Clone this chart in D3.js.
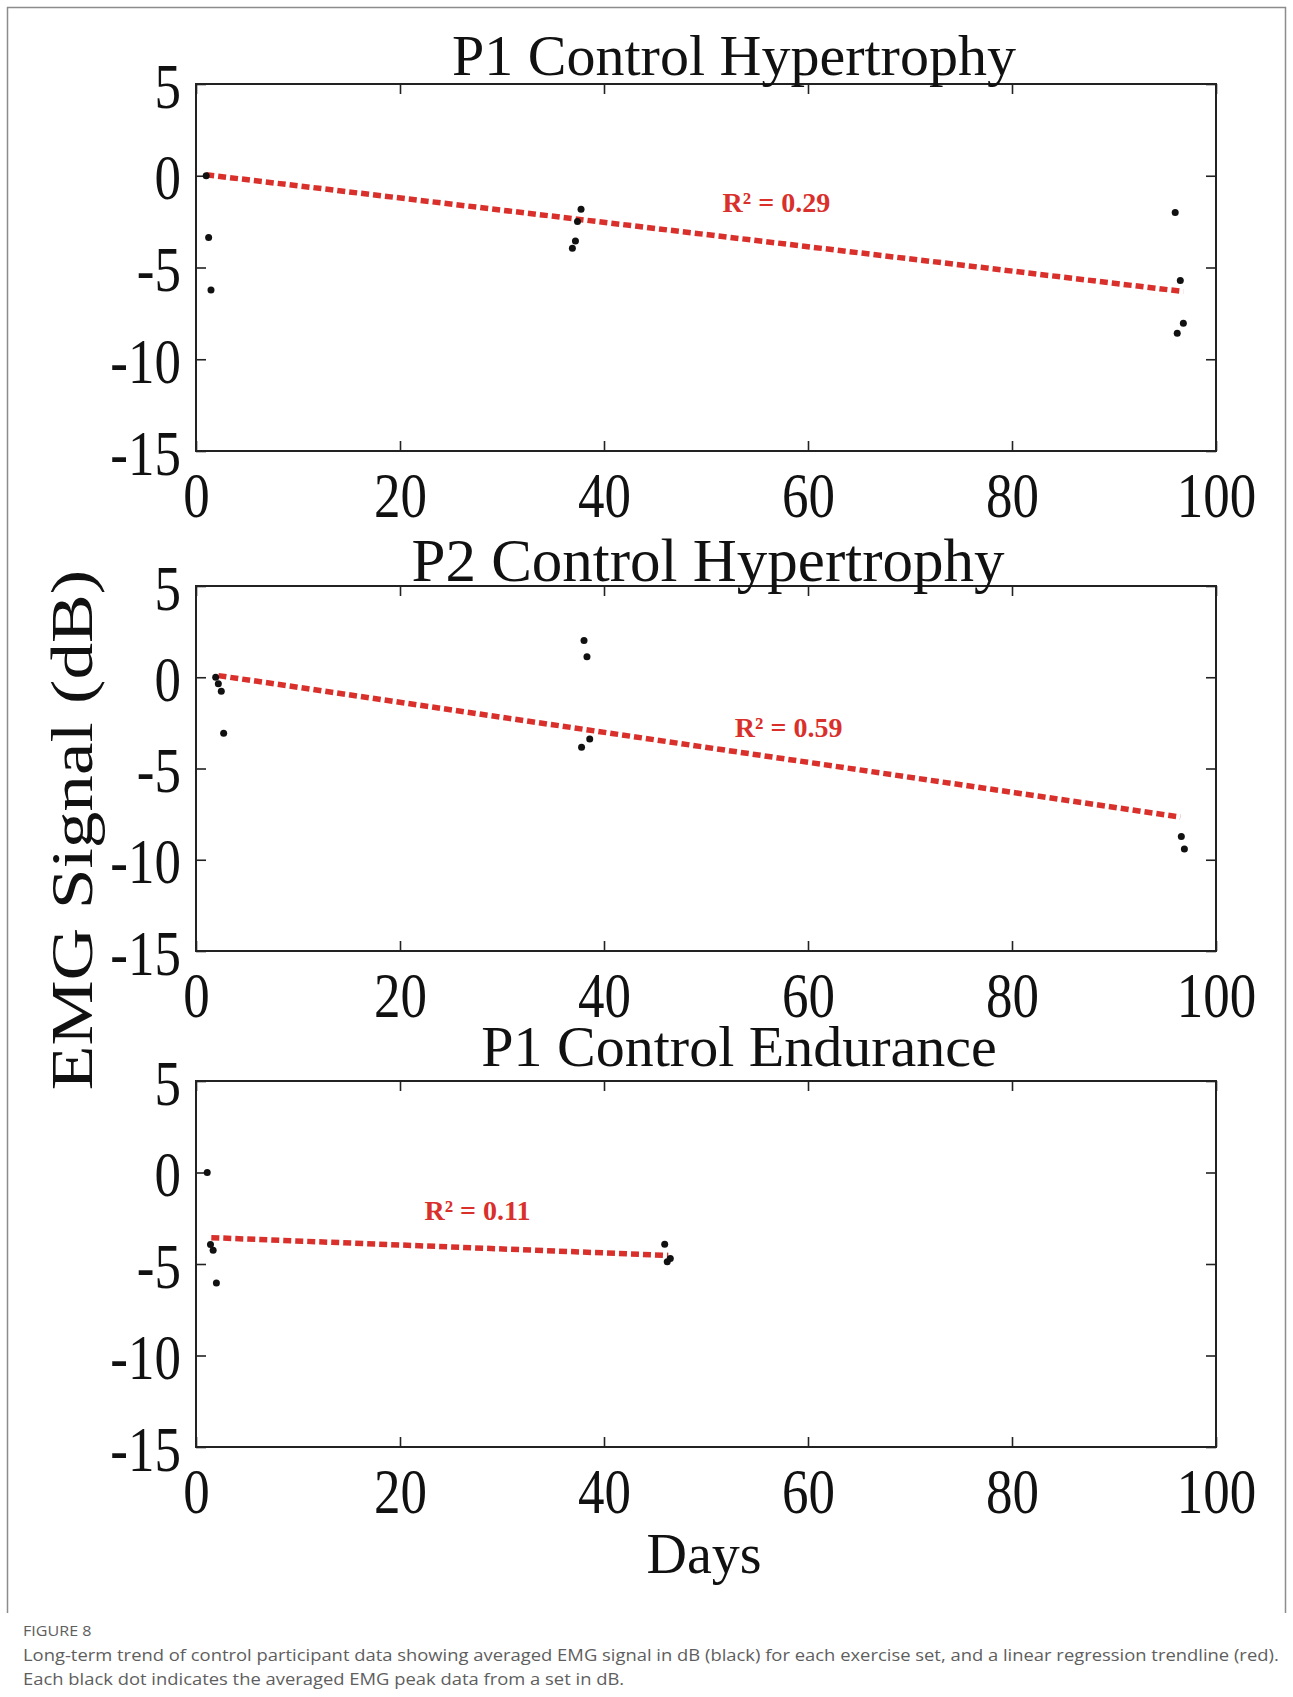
<!DOCTYPE html>
<html>
<head>
<meta charset="utf-8">
<script src="https://cdn.jsdelivr.net/npm/d3@7"></script>
<style>
  body { margin: 0; background: #fff; }
  .serif { font-family: "Liberation Serif", "Times New Roman", serif; }
  .caption { font-family: "Open Sans", "Noto Sans", sans-serif; fill: #5e5e5e; }
</style>
</head>
<body>
<div id="chart"></div>
<script>
// --------------------------------------
//  Data
// --------------------------------------

const panelTitles = ["P1 Control Hypertrophy", "P2 Control Hypertrophy", "P1 Control Endurance"];
const rSquared = ["0.29", "0.59", "0.11"];
const xTicks = [0, 20, 40, 60, 80, 100];
const yTicks = [5, 0, -5, -10, -15];

const p1HypDays = [1.0, 1.24, 1.47, 36.9, 37.2, 37.4, 37.75, 96.0, 96.2, 96.5, 96.8];
const p1HypEmg  = [0.0, -3.37, -6.22, -3.95, -3.55, -2.49, -1.82, -2.0, -8.58, -5.71, -8.04];

const p2HypDays = [1.93, 2.19, 2.48, 2.71, 37.8, 38.04, 38.33, 38.6, 96.6, 96.9];
const p2HypEmg  = [0.0, -0.36, -0.77, -3.07, -3.83, 2.01, 1.13, -3.39, -8.72, -9.41];

const p1EndDays = [1.1, 1.42, 1.68, 2.0, 45.95, 46.2, 46.5];
const p1EndEmg  = [0.0, -3.94, -4.25, -6.04, -3.92, -4.88, -4.7];

const trendStartDay = [1.0, 2.2, 1.5];
const trendEndDay   = [96.8, 96.5, 46.3];
const trendStartEmg = [0.05, 0.09, -3.56];
const trendEndEmg   = [-6.31, -7.66, -4.53];

const captionLines = [
  "Long-term trend of control participant data showing averaged EMG signal in dB (black) for each exercise set, and a linear regression trendline (red).",
  "Each black dot indicates the averaged EMG peak data from a set in dB."
];

// --------------------------------------
//  Layout
// --------------------------------------

const width = 1293;
const height = 1697;
const plotLeft = 196, plotRight = 1216;
const panelTop = [84, 586, 1081];
const panelBottom = [451, 951, 1447];
const titleX = [734, 708, 739];
const titleY = [75, 581, 1066];
const titleSize = [58, 61, 58];
const labelDay = [56.9, 58.1, 27.6];   // R² label centre, data coords
const labelEmg = [-1.95, -3.28, -2.61];
const tickStretch = 1.2;
const captionStretch = 1.15;

const panels = [
  {days: p1HypDays, emg: p1HypEmg},
  {days: p2HypDays, emg: p2HypEmg},
  {days: p1EndDays, emg: p1EndEmg}
];

const svg = d3.select("#chart")
  .append("svg")
    .attr("width", width)
    .attr("height", height)
    .attr("viewBox", `0, 0, ${width}, ${height}`);

// figure frame (open at the bottom)
svg.append("path")
  .attr("d", "M7.5,1613 V7.5 H1285.5 V1613")
  .attr("fill", "none")
  .attr("stroke", "#8c8c8c")
  .attr("stroke-width", 1.5);

const x = d3.scaleLinear().domain([0, 100]).range([plotLeft, plotRight]);

panels.forEach((p, i) => {
  const y = d3.scaleLinear().domain([-15, 5]).range([panelBottom[i], panelTop[i]]);
  const g = svg.append("g");

  // bottom axis with labels
  const xAxis = g.append("g")
    .attr("transform", `translate(0, ${panelBottom[i]})`)
    .call(d3.axisBottom(x).tickValues(xTicks).tickSize(-10).tickSizeOuter(0).tickFormat(d => String(d)));
  xAxis.selectAll("text")
    .attr("class", "serif")
    .attr("font-size", 53)
    .attr("fill", "#111")
    .attr("dy", null)
    .attr("y", 66 / tickStretch)
    .attr("transform", `scale(1, ${tickStretch})`);

  // top axis (ticks only)
  g.append("g")
    .attr("transform", `translate(0, ${panelTop[i]})`)
    .call(d3.axisTop(x).tickValues(xTicks).tickSize(-10).tickSizeOuter(0).tickFormat(""));

  // left axis with labels
  const yAxis = g.append("g")
    .attr("transform", `translate(${plotLeft}, 0)`)
    .call(d3.axisLeft(y).tickValues(yTicks).tickSize(-10).tickSizeOuter(0).tickFormat(d => String(d)));
  yAxis.selectAll("text")
    .attr("class", "serif")
    .attr("font-size", 53)
    .attr("fill", "#111")
    .attr("dy", null)
    .attr("x", -15)
    .attr("y", 23 / tickStretch)
    .attr("transform", `scale(1, ${tickStretch})`);

  // right axis (ticks only)
  g.append("g")
    .attr("transform", `translate(${plotRight}, 0)`)
    .call(d3.axisRight(y).tickValues(yTicks).tickSize(-10).tickSizeOuter(0).tickFormat(""));

  g.selectAll(".domain").remove();
  g.selectAll(".tick line").attr("stroke", "#222").attr("stroke-width", 1.6);

  // box
  g.append("rect")
    .attr("x", plotLeft)
    .attr("y", panelTop[i])
    .attr("width", plotRight - plotLeft)
    .attr("height", panelBottom[i] - panelTop[i])
    .attr("fill", "none")
    .attr("stroke", "#222")
    .attr("stroke-width", 2);

  // trend line
  g.append("line")
    .attr("x1", x(trendStartDay[i]))
    .attr("y1", y(trendStartEmg[i]))
    .attr("x2", x(trendEndDay[i]))
    .attr("y2", y(trendEndEmg[i]))
    .attr("stroke", "#d9302c")
    .attr("stroke-width", 5.5)
    .attr("stroke-dasharray", "8,4");

  // points
  g.selectAll("circle.pt")
    .data(d3.range(p.days.length))
    .join("circle")
      .attr("class", "pt")
      .attr("cx", k => x(p.days[k]))
      .attr("cy", k => y(p.emg[k]))
      .attr("r", 3.5)
      .attr("fill", "#111");

  // R² label
  g.append("text")
    .attr("class", "serif")
    .attr("x", x(labelDay[i]))
    .attr("y", y(labelEmg[i]))
    .attr("text-anchor", "middle")
    .attr("font-size", 28)
    .attr("font-weight", "bold")
    .attr("fill", "#d9302c")
    .text(`R² = ${rSquared[i]}`);

  // title
  g.append("text")
    .attr("class", "serif")
    .attr("x", titleX[i])
    .attr("y", titleY[i])
    .attr("text-anchor", "middle")
    .attr("font-size", titleSize[i])
    .attr("fill", "#111")
    .text(panelTitles[i]);
});

// --------------------------------------
//  Axis titles
// --------------------------------------

svg.append("text")
  .attr("class", "serif")
  .attr("transform", "translate(92, 830) rotate(-90) scale(1.22, 1)")
  .attr("text-anchor", "middle")
  .attr("font-size", 60)
  .attr("fill", "#111")
  .text("EMG Signal (dB)");

svg.append("text")
  .attr("class", "serif")
  .attr("x", 704)
  .attr("y", 1573)
  .attr("text-anchor", "middle")
  .attr("font-size", 56)
  .attr("fill", "#111")
  .text("Days");

// --------------------------------------
//  Caption
// --------------------------------------

svg.append("text")
  .attr("class", "caption")
  .attr("transform", `translate(23, 1636) scale(${captionStretch}, 1)`)
  .attr("font-size", 14)
  .text("FIGURE 8");

svg.selectAll("text.capline")
  .data(captionLines)
  .join("text")
    .attr("class", "caption capline")
    .attr("transform", (d, k) => `translate(23, ${1661 + k * 24}) scale(${captionStretch}, 1)`)
    .attr("font-size", 16)
    .text(d => d);
</script>
</body>
</html>
